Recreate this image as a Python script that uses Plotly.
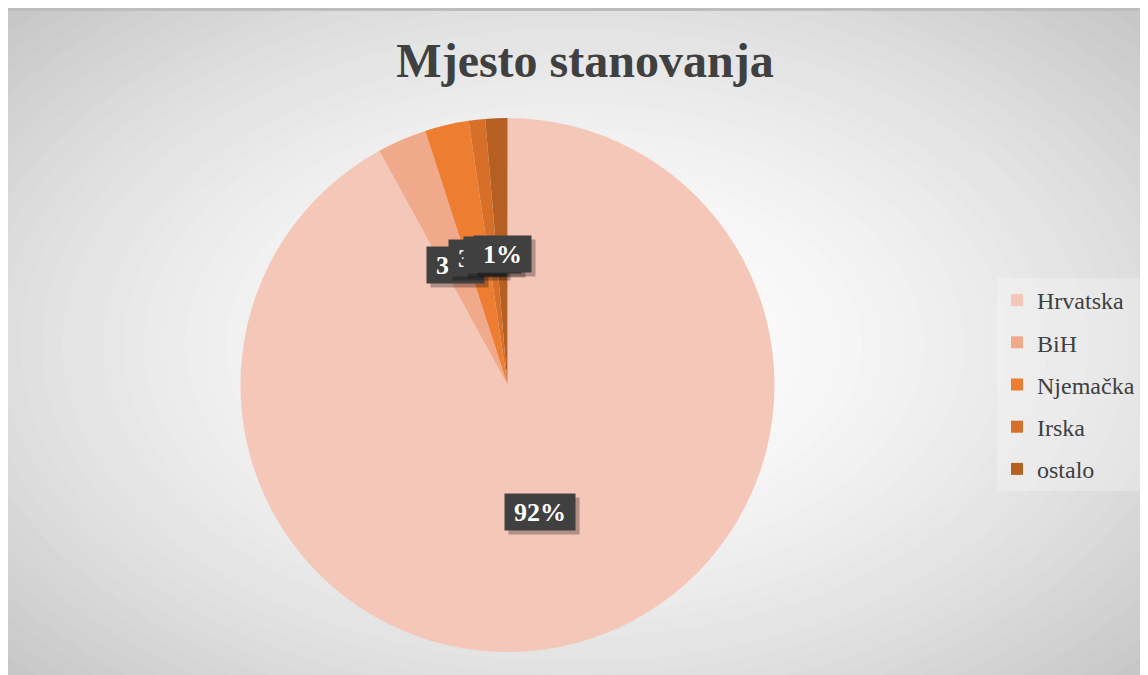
import numpy as np
import plotly.graph_objects as go

title = "Mjesto stanovanja"
countries = ["Hrvatska", "BiH", "Njemačka", "Irska", "ostalo"]
counts = [277, 9, 8, 3, 4]
colors = ["#F5C7B8", "#F1A98B", "#ED7D31", "#D86F28", "#B55F22"]

# the page adds an 8px margin, so the figure is sized to fit the window
OFF = 8
W, H = 1148 - OFF, 675 - OFF


def fx(px):
    return (px - OFF) / W


def fy(py):
    return 1 - (py - OFF) / H


# pie placement in window pixels
cx, cy, R = 507.5, 385.0, 267.0

fig = go.Figure()

fig.add_trace(go.Pie(
    labels=countries,
    values=counts,
    sort=False,
    direction="clockwise",
    rotation=0,
    marker=dict(colors=colors, line=dict(width=0)),
    textinfo="none",
    hoverinfo="label+percent",
    showlegend=False,
    domain=dict(x=[fx(cx - R), fx(cx + R)], y=[fy(cy + R), fy(cy - R)]),
))

# legend entries (square swatches)
for name, col in zip(countries, colors):
    fig.add_trace(go.Scatter(
        x=[None], y=[None], mode="markers", name=name, legendgroup=name,
        marker=dict(symbol="square", size=12, color=col),
    ))

# data labels: dark boxes along each slice's mid angle
shares = np.array(counts) / sum(counts)
ends = np.cumsum(shares) * 2 * np.pi
mids = ends - shares * np.pi
annotations = []
for share, mid in zip(shares, mids):
    px = cx + 0.49 * R * np.sin(mid)
    py = cy - 0.49 * R * np.cos(mid)
    txt = f"{round(share * 100)}%"
    bw = 70 if len(txt) > 2 else 57
    common = dict(xref="paper", yref="paper", text=txt, showarrow=False,
                  xanchor="center", yanchor="middle",
                  width=bw, height=36, borderpad=0,
                  font=dict(family="Liberation Serif", size=26, color="white"))
    annotations.append(dict(common, x=fx(px + 4), y=fy(py + 4),
                            bgcolor="rgba(0,0,0,0.28)", font=dict(common["font"], color="rgba(0,0,0,0)")))
    annotations.append(dict(common, x=fx(px), y=fy(py), bgcolor="#404040",
                            text=f"<b>{txt}</b>"))

# radial gradient background made of concentric ellipses
shapes = []
gx, gy = fx(575), fy(345)
n = 40
for i in range(n, 0, -1):
    t = i / n
    g = int(round(255 - (255 - 194) * t ** 1.7))
    rx, ry = 0.72 * t, 0.76 * t
    shapes.append(dict(type="circle", xref="paper", yref="paper", layer="below",
                       x0=gx - rx, x1=gx + rx, y0=gy - ry, y1=gy + ry,
                       fillcolor=f"rgb({g},{g},{g})", line=dict(width=0)))
# top frame edge
shapes.append(dict(type="rect", xref="paper", yref="paper", layer="below",
                   x0=-0.1, x1=1.1, y0=fy(11), y1=1.1, fillcolor="#bdbdbd", line=dict(width=0)))

fig.update_layout(
    width=W, height=H,
    margin=dict(l=0, r=0, t=0, b=0),
    paper_bgcolor="#d0d0d0",
    plot_bgcolor="rgba(0,0,0,0)",
    title=dict(text=f"<b>{title}</b>", x=fx(585), xanchor="center", y=fy(60), yanchor="middle",
               font=dict(family="Liberation Serif", size=48, color="#404040")),
    xaxis=dict(visible=False),
    yaxis=dict(visible=False),
    showlegend=True,
    legend=dict(x=fx(997), y=fy(278), xanchor="left", yanchor="top",
                bgcolor="rgba(255,255,255,0.25)", tracegroupgap=8, itemclick=False,
                itemwidth=30,
                font=dict(family="Liberation Serif", size=24, color="#404040")),
    shapes=shapes,
    annotations=annotations,
)

fig.write_html("out.html")
